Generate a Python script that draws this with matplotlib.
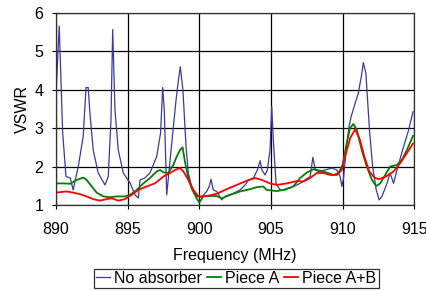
import numpy as np
import matplotlib
matplotlib.use('Agg')
import matplotlib.pyplot as plt

plt.rcParams['font.family'] = ['Liberation Sans', 'DejaVu Sans']

# No absorber (blue)
f_none = [890.0, 890.23, 890.47, 890.7, 891.0, 891.2, 891.56, 891.9, 892.1, 892.25,
          892.37, 892.6, 892.95, 893.42, 893.65, 893.84, 893.96, 894.12, 894.35, 894.7,
          895.17, 895.52, 895.75, 895.87, 896.2, 896.56, 897.03, 897.3, 897.45, 897.56,
          897.73, 898.08, 898.38, 898.55, 898.68, 898.86, 899.08, 899.24, 899.47, 899.82,
          900.17, 900.52, 900.7, 900.82, 900.98, 901.22, 901.57, 901.8, 902.38, 902.85,
          903.2, 903.43, 903.78, 904.06, 904.25, 904.37, 904.6, 904.75, 904.94, 905.06,
          905.17, 905.36, 905.64, 905.99, 906.57, 907.04, 907.74, 907.93, 908.1, 908.32,
          908.78, 909.25, 909.6, 909.83, 909.95, 910.07, 910.25, 910.45, 910.6, 910.88,
          911.1, 911.33, 911.45, 911.63, 911.88, 912.1, 912.35, 912.56, 912.75, 913.1,
          913.32, 913.56, 913.8, 914.26, 914.61, 914.92]
v_none = [3.85, 5.66, 2.88, 1.74, 1.70, 1.39, 2.0, 2.78, 4.06, 4.06,
          3.4, 2.43, 1.83, 1.52, 1.74, 3.21, 5.57, 3.47, 2.43, 1.83,
          1.57, 1.26, 1.18, 1.65, 1.70, 1.83, 2.26, 2.87, 4.06, 3.47,
          1.26, 2.6, 3.73, 4.26, 4.6, 4.0, 2.52, 1.83, 1.48, 1.22,
          1.2, 1.35, 1.48, 1.67, 1.39, 1.35, 1.13, 1.22, 1.30, 1.39,
          1.52, 1.65, 1.7, 1.91, 2.15, 1.91, 1.78, 1.91, 2.43, 3.56,
          2.69, 1.56, 1.39, 1.39, 1.48, 1.56, 1.74, 2.24, 1.91, 1.87,
          1.91, 1.96, 1.91, 1.74, 1.48, 1.7, 2.43, 3.04, 3.3, 3.65,
          3.91, 4.39, 4.71, 4.43, 2.95, 2.0, 1.39, 1.13, 1.22, 1.56,
          1.83, 1.56, 1.91, 2.52, 2.95, 3.43]

# Piece A (green)
f_a = [890.0, 890.51, 891.0, 891.44, 891.9, 892.14, 892.5, 892.84, 893.3, 893.77,
       894.24, 894.82, 895.17, 895.64, 896.1, 896.56, 897.03, 897.26, 897.5, 897.84,
       898.19, 898.43, 898.66, 898.84, 899.0, 899.24, 899.47, 899.82, 900.0, 900.29,
       900.75, 901.22, 901.57, 902.15, 902.85, 903.55, 904.0, 904.47, 904.7, 905.41,
       905.88, 906.57, 907.04, 907.5, 907.97, 908.44, 908.9, 909.37, 909.72, 910.0,
       910.29, 910.52, 910.76, 911.0, 911.34, 911.69, 912.05, 912.35, 912.63, 912.98,
       913.32, 913.79, 914.14, 914.49, 914.92]
v_a = [1.56, 1.56, 1.55, 1.65, 1.71, 1.65, 1.48, 1.32, 1.22, 1.2,
       1.22, 1.22, 1.26, 1.39, 1.56, 1.70, 1.87, 1.91, 1.85, 1.83,
       2.04, 2.26, 2.43, 2.5, 2.13, 1.7, 1.43, 1.17, 1.06, 1.22,
       1.23, 1.23, 1.17, 1.26, 1.35, 1.41, 1.46, 1.48, 1.39, 1.36,
       1.39, 1.48, 1.70, 1.84, 1.93, 1.89, 1.84, 1.78, 1.83, 2.04,
       2.6, 3.0, 3.11, 2.95, 2.43, 2.0, 1.65, 1.49, 1.56, 1.78,
       2.0, 2.04, 2.17, 2.43, 2.8]

# Piece A+B (red)
f_ab = [890.0, 890.74, 891.2, 891.67, 892.14, 892.6, 893.07, 893.54, 893.9, 894.35,
        894.82, 895.28, 895.75, 896.33, 896.91, 897.5, 897.96, 898.31, 898.66, 898.9,
        899.24, 899.59, 899.94, 900.52, 901.22, 901.92, 902.62, 903.32, 903.9, 904.37,
        904.94, 905.41, 906.1, 906.8, 907.27, 907.74, 908.2, 908.67, 909.13, 909.6,
        909.95, 910.18, 910.53, 910.88, 911.22, 911.52, 911.87, 912.26, 912.56, 913.03,
        913.56, 914.03, 914.49, 914.92]
v_ab = [1.32, 1.35, 1.32, 1.28, 1.22, 1.15, 1.11, 1.15, 1.17, 1.11,
        1.15, 1.26, 1.39, 1.48, 1.56, 1.74, 1.83, 1.91, 1.96, 1.87,
        1.65, 1.39, 1.22, 1.23, 1.29, 1.41, 1.52, 1.63, 1.70, 1.65,
        1.56, 1.52, 1.56, 1.62, 1.61, 1.70, 1.83, 1.83, 1.78, 1.78,
        1.91, 2.26, 2.74, 2.97, 2.69, 2.26, 1.87, 1.70, 1.67, 1.74,
        1.87, 2.09, 2.35, 2.6]

xticks = [890, 895, 900, 905, 910, 915]
yticks = [1, 2, 3, 4, 5, 6]

fig = plt.figure(figsize=(4.27, 2.91), dpi=100)
ax = fig.add_axes([0.131, 0.296, 0.839, 0.659])

ax.plot(f_none, v_none, color='#3a3aa0', lw=0.9, label='No absorber')
ax.plot(f_a, v_a, color='#008000', lw=1.3, label='Piece A')
ax.plot(f_ab, v_ab, color='#ff0000', lw=1.3, label='Piece A+B')

ax.set_xlim(890, 915)
ax.set_ylim(1, 6)
ax.set_xticks(xticks)
ax.set_yticks(yticks)
ax.grid(True, color='black', lw=0.9)
ax.set_axisbelow(True)
for s in ax.spines.values():
    s.set_color('#333333')
    s.set_linewidth(0.9)
ax.tick_params(direction='inout', length=6, labelsize=11.5, color='black')
ax.tick_params(axis='x', pad=9)
ax.tick_params(axis='y', pad=6)
ax.set_xlabel('Frequency (MHz)', fontsize=11.5, labelpad=8)
ax.set_ylabel('VSWR', fontsize=11.5, labelpad=3)

leg = ax.legend(loc='upper center', bbox_to_anchor=(0.503, -0.335), ncol=3,
                frameon=True, fancybox=False, edgecolor='black', fontsize=11.5,
                handlelength=0.9, handletextpad=0.25, columnspacing=0.3,
                borderpad=0.12, borderaxespad=0)
leg.get_frame().set_linewidth(0.9)

fig.savefig('out.png', dpi=100)
